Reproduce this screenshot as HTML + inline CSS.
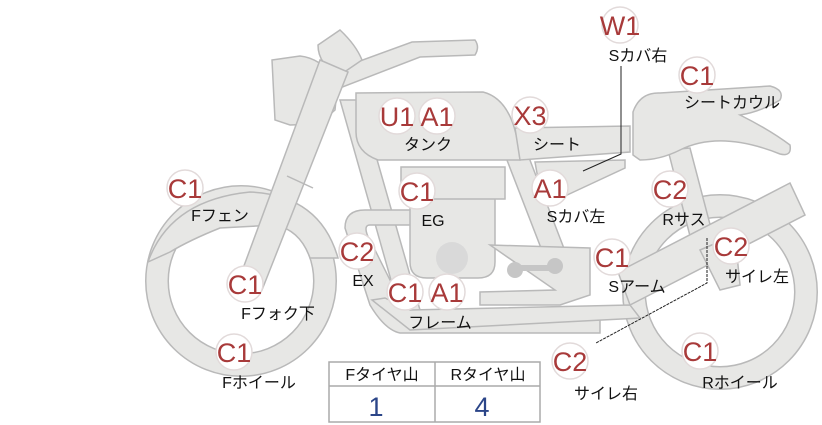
<!DOCTYPE html>
<html><head><meta charset="utf-8"><style>
html,body{margin:0;padding:0;background:#fff;width:822px;height:425px;overflow:hidden}
svg{display:block}
.p{fill:#e7e7e5;stroke:#b9b9b9;stroke-width:1.5}
.b circle{fill:#fff;stroke:#e2dada;stroke-width:1.5}
.bt{font-family:"Liberation Sans",sans-serif;font-size:27px;fill:#a83a3a;text-anchor:middle}
.lb{font-family:"Liberation Sans","Noto Sans CJK JP",sans-serif;font-size:16px;fill:#111;text-anchor:middle}
</style></head><body>
<svg width="822" height="425" viewBox="0 0 822 425" xmlns="http://www.w3.org/2000/svg">
<circle cx="241" cy="281" r="84" fill="none" stroke="#b9b9b9" stroke-width="24"/>
<circle cx="241" cy="281" r="84" fill="none" stroke="#e7e7e5" stroke-width="21"/>
<circle cx="720" cy="292" r="86" fill="none" stroke="#b9b9b9" stroke-width="24"/>
<circle cx="720" cy="292" r="86" fill="none" stroke="#e7e7e5" stroke-width="21"/>
<path class="p" d="M148,262 Q170,200 250,192 Q320,195 338,258 L310,258 Q300,230 275,225 L220,228 Q190,240 170,252 Z"/>
<path class="p" d="M330,72 L412,42 L475,40 Q480,47 475,55 L420,57 L340,88 Z"/>
<path class="p" d="M272,60 L300,56 Q320,58 338,80 L335,110 Q320,125 290,125 L275,120 Z"/>
<path class="p" d="M318,45 L340,30 Q356,45 362,60 L340,75 Q318,65 318,45 Z"/>
<path class="p" d="M340,100 L360,100 L420,310 L400,312 Z"/>
<path class="p" d="M345,228 Q345,210 365,210 L420,210 L420,225 L370,225 Q360,225 375,250 L410,320 L600,320 L600,333 L400,333 Q385,330 370,305 Z"/>
<path class="p" d="M372,300 L385,298 L410,310 L630,305 L640,318 L410,330 Z"/>
<path class="p" d="M410,195 L495,195 L495,262 Q495,278 478,278 L427,278 Q410,278 410,262 Z"/>
<rect class="p" x="401" y="167" width="104" height="32"/>
<circle cx="452" cy="258" r="16" fill="#d9d9d9"/>
<path class="p" d="M505,155 L528,155 L580,290 L558,292 Z"/>
<path class="p" d="M490,245 L590,248 L590,295 L560,305 L480,305 L480,292 L555,290 Z"/>
<g fill="#c6c6c6"><circle cx="515" cy="270" r="8"/><circle cx="555" cy="266" r="8"/><rect x="515" y="265" width="40" height="6"/></g>
<path class="p" d="M320,60 L348,72 L262,290 L238,282 Z"/>
<path fill="none" stroke="#b9b9b9" stroke-width="1.5" d="M287,176 L313,188"/>
<path class="p" d="M356,93 L483,92 Q515,100 520,160 L378,160 Q356,152 356,132 Z"/>
<path class="p" d="M515,128 L630,126 L630,152 L520,160 Z"/>
<path class="p" d="M535,162 L625,160 L625,168 L565,196 L540,190 Z"/>
<path class="p" d="M668,150 L690,148 L712,232 L690,236 Z"/>
<path class="p" d="M633,155 L633,112 Q640,92 660,93 L770,86 Q785,90 780,100 Q760,112 740,115 Q770,130 790,145 Q792,157 780,154 Q720,130 680,150 Q660,160 640,160 Z"/>
<path class="p" d="M618,272 L790,183 L805,215 L630,305 Z"/>
<path class="p" d="M700,250 L735,235 L740,285 L720,290 Z"/>
<path fill="none" stroke="#222" stroke-width="1" d="M621,66 L621,154 L583,171"/>
<path fill="none" stroke="#222" stroke-width="1" stroke-dasharray="3,1" d="M707,238 L707,283 L596,343"/>
<g font-family="Liberation Sans,Noto Sans CJK JP,sans-serif">
<rect x="329" y="362" width="211" height="60" fill="#fff" stroke="#aaa" stroke-width="1.5"/>
<line x1="329" y1="386" x2="540" y2="386" stroke="#aaa" stroke-width="1.5"/>
<line x1="435" y1="362" x2="435" y2="422" stroke="#aaa" stroke-width="1.5"/>
<text x="382" y="380" class="lb">Fタイヤ山</text>
<text x="488" y="380" class="lb">Rタイヤ山</text>
<text x="376" y="416" font-size="27" fill="#2b4588" text-anchor="middle">1</text>
<text x="482" y="416" font-size="27" fill="#2b4588" text-anchor="middle">4</text>
</g>
<g class="b">
<circle cx="620" cy="25" r="18"/><circle cx="697" cy="75" r="18"/>
<circle cx="397" cy="116" r="18"/><circle cx="437" cy="116" r="18"/><circle cx="530" cy="115" r="18"/>
<circle cx="185" cy="188" r="18"/><circle cx="417" cy="191" r="18"/><circle cx="550" cy="188" r="18"/><circle cx="670" cy="189" r="18"/>
<circle cx="357" cy="251" r="18"/><circle cx="612" cy="257" r="18"/><circle cx="731" cy="246" r="18"/>
<circle cx="245" cy="284" r="18"/><circle cx="405" cy="292" r="18"/><circle cx="447" cy="292" r="18"/>
<circle cx="234" cy="352" r="18"/><circle cx="570" cy="361" r="18"/><circle cx="700" cy="351" r="18"/>
</g>
<g class="bt">
<text x="620" y="35">W1</text><text x="697" y="85">C1</text>
<text x="397" y="126">U1</text><text x="437" y="126">A1</text><text x="530" y="125">X3</text>
<text x="185" y="198">C1</text><text x="417" y="201">C1</text><text x="550" y="198">A1</text><text x="670" y="199">C2</text>
<text x="357" y="261">C2</text><text x="612" y="267">C1</text><text x="731" y="256">C2</text>
<text x="245" y="294">C1</text><text x="405" y="302">C1</text><text x="447" y="302">A1</text>
<text x="234" y="362">C1</text><text x="570" y="371">C2</text><text x="700" y="361">C1</text>
</g>
<g class="lb">
<text x="638" y="61">Sカバ右</text><text x="732" y="108">シートカウル</text>
<text x="428" y="150">タンク</text><text x="557" y="150">シート</text>
<text x="220" y="221">Fフェン</text><text x="433" y="226">EG</text><text x="576" y="222">Sカバ左</text><text x="684" y="225">Rサス</text>
<text x="363" y="286">EX</text><text x="637" y="292">Sアーム</text><text x="757" y="282">サイレ左</text>
<text x="278" y="319">Fフォク下</text><text x="440" y="328">フレーム</text>
<text x="259" y="388">Fホイール</text><text x="606" y="399">サイレ右</text><text x="740" y="388">Rホイール</text>
</g>
</svg>
</body></html>
